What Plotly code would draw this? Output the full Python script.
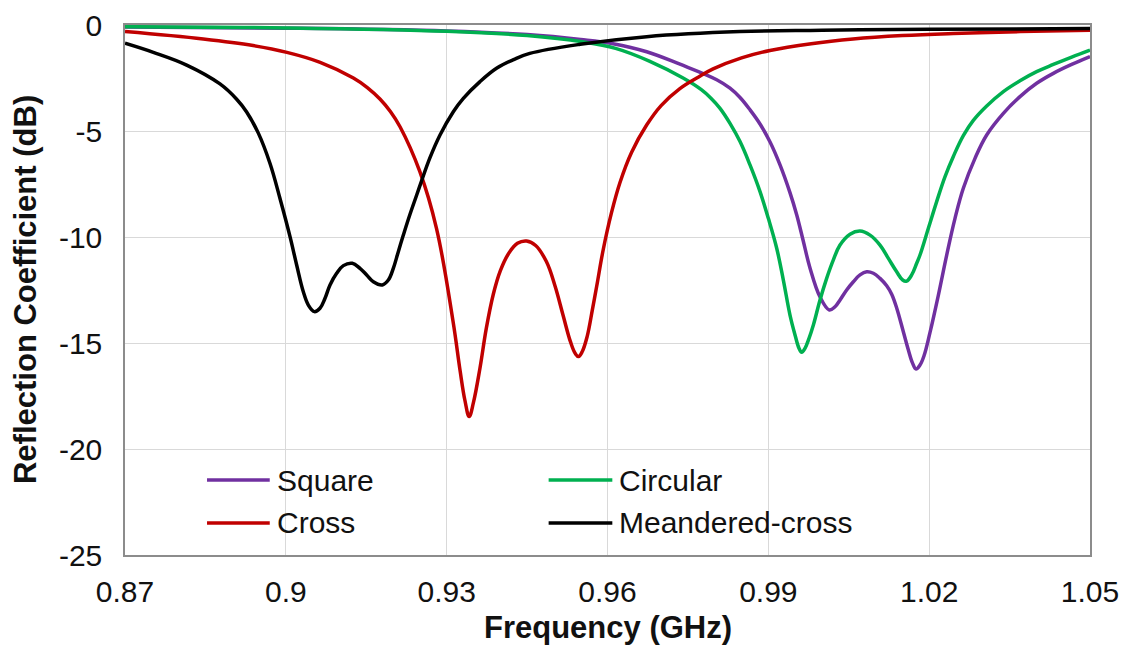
import plotly.graph_objects as go

# ---- data (frequency in GHz, reflection in dB) ----
square_f = [0.870, 0.900, 0.930, 0.945, 0.955, 0.96103, 0.96731, 0.97352, 0.98037, 0.98285,
            0.98472, 0.98658, 0.98845, 0.99032, 0.99218, 0.99405, 0.99530, 0.99647, 0.99777,
            0.99964, 1.00137, 1.00244, 1.00338, 1.00461, 1.00586, 1.00710, 1.00835, 1.00959,
            1.01083, 1.01208, 1.01301, 1.01394, 1.01518, 1.01612, 1.01692, 1.01755, 1.01829,
            1.01904, 1.02016, 1.02171, 1.02327, 1.02482, 1.02637, 1.02855, 1.03073, 1.03384,
            1.03694, 1.04005, 1.04316, 1.04658, 1.050]
square_db = [-0.10, -0.15, -0.28, -0.45, -0.68, -0.88, -1.26, -1.85, -2.58, -2.98,
             -3.42, -4.00, -4.67, -5.52, -6.60, -7.92, -8.96, -10.14, -11.46,
             -12.83, -13.44, -13.29, -12.97, -12.50, -12.11, -11.79, -11.64, -11.71,
             -11.95, -12.30, -12.70, -13.35, -14.47, -15.33, -15.96, -16.23, -16.04,
             -15.60, -14.50, -12.75, -10.85, -9.12, -7.70, -6.29, -5.19, -4.17,
             -3.38, -2.75, -2.28, -1.86, -1.49]

circular_f = [0.870, 0.900, 0.930, 0.945, 0.9553, 0.9615, 0.9678, 0.9741, 0.9775, 0.9793,
              0.98099, 0.98285, 0.98472, 0.98658, 0.98845, 0.99000, 0.99156, 0.99280, 0.99404,
              0.99498, 0.99572, 0.99622, 0.99684, 0.99759, 0.99840, 0.99964, 1.00088, 1.00213,
              1.00337, 1.00524, 1.00710, 1.00897, 1.01083, 1.01239, 1.01394, 1.01506, 1.01580,
              1.01674, 1.01767, 1.01829, 1.01985, 1.02140, 1.02296, 1.02451, 1.02637, 1.02824,
              1.03073, 1.03384, 1.03694, 1.04005, 1.04316, 1.04658, 1.050]
circular_db = [-0.08, -0.14, -0.30, -0.50, -0.79, -1.10, -1.70, -2.50, -3.05, -3.45,
               -3.93, -4.64, -5.50, -6.60, -7.86, -9.12, -10.53, -12.03, -13.68,
               -14.62, -15.25, -15.44, -15.25, -14.78, -14.15, -12.97, -11.95, -11.08,
               -10.38, -9.87, -9.72, -9.91, -10.38, -11.01, -11.64, -12.03, -12.08,
               -11.79, -11.24, -10.85, -9.59, -8.33, -7.15, -6.20, -5.22, -4.50,
               -3.82, -3.14, -2.63, -2.20, -1.86, -1.51, -1.18]

cross_f = [0.870, 0.8846, 0.8939, 0.9002, 0.9064, 0.9126, 0.9152, 0.9176, 0.9195, 0.9213,
           0.9250, 0.9281, 0.9312, 0.9325, 0.9334, 0.9342, 0.9350, 0.9362, 0.9374, 0.9387,
           0.9400, 0.9415, 0.9432, 0.9449, 0.9466, 0.9486, 0.9502, 0.9517, 0.9531, 0.9540,
           0.9546, 0.9553, 0.9562, 0.9572, 0.9580, 0.9592, 0.9607, 0.9623, 0.9645, 0.9673,
           0.9700, 0.9735, 0.9770, 0.9797, 0.9850, 0.9903, 0.9980, 1.0058, 1.0150, 1.0245,
           1.0370, 1.050]
cross_db = [-0.31, -0.66, -0.97, -1.29, -1.76, -2.50, -2.95, -3.50, -4.08, -4.80,
            -6.92, -9.59, -14.00, -16.30, -17.70, -18.47, -17.80, -16.20, -14.30, -12.70,
            -11.60, -10.80, -10.30, -10.19, -10.40, -11.16, -12.30, -13.68, -14.95, -15.50,
            -15.64, -15.40, -14.70, -13.40, -12.30, -10.60, -8.90, -7.45, -6.00, -4.72,
            -3.80, -3.00, -2.45, -2.07, -1.55, -1.20, -0.88, -0.66, -0.50, -0.40,
            -0.31, -0.25]

meander_f = [0.870, 0.87528, 0.88150, 0.88772, 0.89083, 0.89269, 0.89487, 0.89705, 0.89891,
             0.90078, 0.90202, 0.90326, 0.90420, 0.90532, 0.90637, 0.90731, 0.90824, 0.90948,
             0.91073, 0.91240, 0.91383, 0.91508, 0.91632, 0.91800, 0.91912, 0.92005, 0.92098,
             0.92192, 0.92316, 0.92441, 0.92534, 0.92689, 0.92876, 0.93124, 0.93311, 0.93622,
             0.9393, 0.9425, 0.9455, 0.9549, 0.9673, 0.9847, 1.000, 1.020, 1.050]
meander_db = [-0.86, -1.29, -1.89, -2.78, -3.50, -4.10, -5.10, -6.53, -8.18,
              -9.98, -11.32, -12.58, -13.21, -13.52, -13.36, -12.89, -12.26, -11.71,
              -11.35, -11.24, -11.48, -11.79, -12.11, -12.26, -12.03, -11.48, -10.69,
              -9.91, -8.93, -8.02, -7.34, -6.26, -5.19, -4.09, -3.46, -2.67,
              -2.04, -1.63, -1.34, -0.91, -0.55, -0.31, -0.25, -0.20, -0.17]

series_names = ["Square", "Circular", "Cross", "Meandered-cross"]
series_colors = ["#7030A0", "#00B050", "#C00000", "#000000"]
x_ticks = [0.87, 0.9, 0.93, 0.96, 0.99, 1.02, 1.05]
x_tick_text = ["0.87", "0.9", "0.93", "0.96", "0.99", "1.02", "1.05"]
y_ticks = [0, -5, -10, -15, -20, -25]
y_tick_text = ["0", "-5", "-10", "-15", "-20", "-25"]
x_title = "Frequency (GHz)"
y_title = "Reflection Coefficient (dB)"

FONT = "Liberation Sans, Arial, sans-serif"
TXT = "#111111"

fig = go.Figure()
all_f = [square_f, circular_f, cross_f, meander_f]
all_db = [square_db, circular_db, cross_db, meander_db]
for name, color, f, db in zip(series_names, series_colors, all_f, all_db):
    fig.add_trace(go.Scatter(x=f, y=db, mode="lines", name=name,
                             line=dict(color=color, width=3.5, shape="spline", smoothing=1.1),
                             showlegend=False, hoverinfo="skip"))

# custom legend (2 columns x 2 rows) in paper coordinates
legend_pos = [  # (line x0, line x1, text x, y)
    (0.085, 0.150, 0.155, 0.1415),
    (0.439, 0.505, 0.510, 0.1415),
    (0.085, 0.150, 0.155, 0.0604),
    (0.439, 0.505, 0.510, 0.0604),
]
shapes = []
annotations = []
for (x0, x1, xt, yy), name, color in zip(legend_pos, series_names, series_colors):
    shapes.append(dict(type="line", xref="paper", yref="paper", x0=x0, x1=x1, y0=yy, y1=yy,
                       line=dict(color=color, width=3.5)))
    annotations.append(dict(xref="paper", yref="paper", x=xt, y=yy, text=name, showarrow=False,
                            xanchor="left", yanchor="middle",
                            font=dict(family=FONT, size=30, color=TXT)))

# axis titles
annotations.append(dict(xref="paper", yref="paper", x=0.5, y=-0.1377, text="<b>" + x_title + "</b>",
                        showarrow=False, xanchor="center", yanchor="middle",
                        font=dict(family=FONT, size=31, color=TXT)))
annotations.append(dict(xref="paper", yref="paper", x=-0.1036, y=0.5, text="<b>" + y_title + "</b>",
                        showarrow=False, xanchor="center", yanchor="middle", textangle=-90,
                        font=dict(family=FONT, size=31, color=TXT)))

fig.update_layout(
    width=1125, height=655,
    margin=dict(l=125, r=35, t=25, b=100, autoexpand=False),
    paper_bgcolor="white", plot_bgcolor="white",
    font=dict(family=FONT, size=30, color=TXT),
    shapes=shapes, annotations=annotations,
    showlegend=False,
)
fig.update_xaxes(
    range=[0.87, 1.05], tickvals=x_ticks, ticktext=x_tick_text, automargin=False,
    showgrid=True, gridcolor="#D9D9D9", gridwidth=1,
    showline=True, linecolor="#8C8C8C", linewidth=1.5, mirror=True,
    ticks="", ticklabelstandoff=9, zeroline=False,
    tickfont=dict(family=FONT, size=30, color=TXT),
)
fig.update_yaxes(
    range=[-25, 0], tickvals=y_ticks, ticktext=y_tick_text, automargin=False,
    showgrid=True, gridcolor="#D9D9D9", gridwidth=1,
    showline=True, linecolor="#8C8C8C", linewidth=1.5, mirror=True,
    ticks="", ticklabelstandoff=15, zeroline=False,
    tickfont=dict(family=FONT, size=30, color=TXT),
)

fig.write_html("out.html", config={"displayModeBar": False},
               post_script="document.body.style.margin='0px';document.body.style.overflow='hidden';")
